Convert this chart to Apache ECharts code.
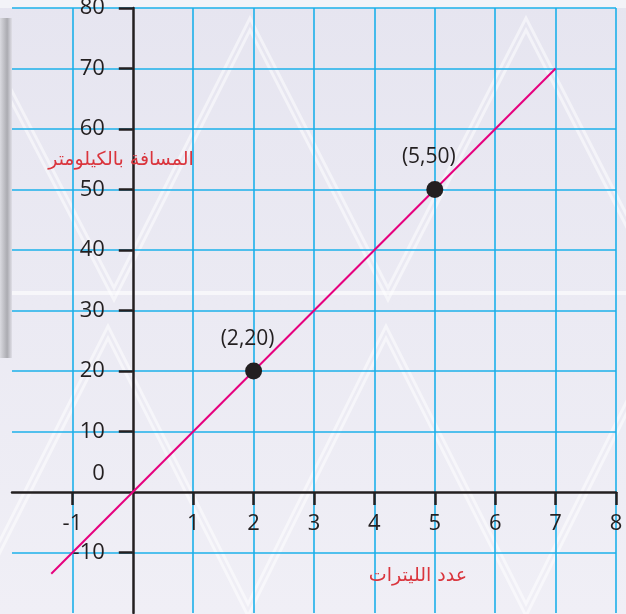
<!DOCTYPE html>
<html>
<head>
<meta charset="utf-8">
<script src="https://cdn.jsdelivr.net/npm/echarts@6/dist/echarts.min.js"></script>
<style>
  html, body { margin: 0; padding: 0; }
  #chart { width: 626px; height: 614px; }
</style>
</head>
<body>
<div id="chart"></div>
<script>
// axis tick labels
var xTicks = [-1, 1, 2, 3, 4, 5, 6, 7, 8];
var xTickMarks = [-1, 1, 2, 3, 4, 5, 6, 7, 8];
var yTicks = [-10, 0, 10, 20, 30, 40, 50, 60, 70, 80];
var yTickMarks = [-10, 10, 20, 30, 40, 50, 60, 70, 80];

// the straight line (drawn from its two ends)
var lineX = [-1.35, 7];
var lineY = [-13.5, 70];

// the two marked points
var pointX = [2, 5];
var pointY = [20, 50];
var pointText = ['(2,20)', '(5,50)'];

var xName = 'عدد الليترات';
var yName = 'المسافة بالكيلومتر';

var inkColor = '#231f20';
var gridColor = '#1cb0ea';
var lineColor = '#e6007e';
var nameColor = '#da353d';

var X_MIN = -2, X_MAX = 8, Y_MIN = -20, Y_MAX = 80;
var G_LEFT = 12, G_RIGHT = 10, G_TOP = 8, G_BOTTOM = 1;
var W = 626, H = 614;
// shift the axes from the grid edge to the zero lines
var plotW = W - G_LEFT - G_RIGHT;
var plotH = H - G_TOP - G_BOTTOM;
var xAxisOffset = -plotH * (0 - Y_MIN) / (Y_MAX - Y_MIN);
var yAxisOffset = -plotW * (0 - X_MIN) / (X_MAX - X_MIN);

var lineData = [];
for (var i = 0; i < lineX.length; i++) {
    lineData.push([lineX[i], lineY[i]]);
}
var pointData = [];
for (var j = 0; j < pointX.length; j++) {
    pointData.push({value: [pointX[j], pointY[j]], label: {formatter: pointText[j]}});
}

// white zigzag decoration of the background
function zigzag(pts, dy) {
    var out = [];
    for (var k = 0; k < pts.length; k++) {
        out.push([pts[k][0], pts[k][1] + dy]);
    }
    return out;
}
var topZig = [[-30, 10], [114, 288], [250, 18], [388, 288], [526, 18], [664, 288]];
var botZig = [[-30, 600], [108, 326], [248, 604], [386, 326], [526, 604], [664, 326]];
var deco = [];
[topZig, botZig].forEach(function (z) {
    [0, 12].forEach(function (d) {
        deco.push({
            type: 'polyline',
            z: -10,
            silent: true,
            shape: {points: zigzag(z, d)},
            style: {stroke: 'rgba(255,255,255,0.5)', lineWidth: 3, fill: null}
        });
    });
});
deco.push({
    type: 'rect', z: -10, silent: true,
    shape: {x: 0, y: 0, width: 626, height: 8},
    style: {fill: '#f3f3f8'}
});
deco.push({
    type: 'rect', z: -10, silent: true,
    shape: {x: 0, y: 291, width: 626, height: 4},
    style: {fill: 'rgba(255,255,255,0.6)'}
});
deco.push({
    type: 'rect', z: -10, silent: true,
    shape: {x: 0, y: 18, width: 12, height: 340},
    style: {
        fill: new echarts.graphic.LinearGradient(0, 0, 1, 0, [
            {offset: 0, color: '#dadae0'},
            {offset: 0.6, color: '#ababb1'},
            {offset: 1, color: '#e0dfe7'}
        ])
    }
});
// axis names
deco.push({
    type: 'text', z: 10, silent: true,
    style: {x: 121, y: 160, text: yName, fill: nameColor, font: '19px "DejaVu Sans"', align: 'center', verticalAlign: 'middle'}
});
deco.push({
    type: 'text', z: 10, silent: true,
    style: {x: 418, y: 576, text: xName, fill: nameColor, font: '19px "DejaVu Sans"', align: 'center', verticalAlign: 'middle'}
});

var myChart = echarts.init(document.getElementById('chart'));
var option = {
    animation: false,
    backgroundColor: new echarts.graphic.LinearGradient(0, 0, 0, 1, [
        {offset: 0, color: '#e6e5f0'},
        {offset: 1, color: '#f0eff6'}
    ]),
    textStyle: {fontFamily: '"Open Sans", sans-serif'},
    grid: {left: G_LEFT, right: G_RIGHT, top: G_TOP, bottom: G_BOTTOM, containLabel: false, outerBoundsMode: 'none'},
    graphic: deco,
    xAxis: {
        type: 'value',
        min: X_MIN,
        max: X_MAX,
        interval: 1,
        position: 'bottom',
        offset: xAxisOffset,
        axisLine: {onZero: false, lineStyle: {color: inkColor, width: 2.5}},
        axisTick: {show: true, customValues: xTickMarks, length: 13, lineStyle: {color: inkColor, width: 2.5}},
        axisLabel: {
            customValues: xTicks,
            margin: 21,
            color: inkColor,
            fontSize: 22,
            hideOverlap: false
        },
        splitLine: {show: true, lineStyle: {color: gridColor, width: 1.6}}
    },
    yAxis: {
        type: 'value',
        min: Y_MIN,
        max: Y_MAX,
        interval: 10,
        position: 'left',
        offset: yAxisOffset,
        axisLine: {onZero: false, lineStyle: {color: inkColor, width: 2.5}},
        axisTick: {show: true, customValues: yTickMarks, length: 14, lineStyle: {color: inkColor, width: 2.5}},
        axisLabel: {
            customValues: yTicks,
            margin: 28,
            color: inkColor,
            fontSize: 22,
            hideOverlap: false,
            formatter: function (v) {
                if (v === 0) {
                    return '{z|0}';
                }
                return String(v);
            },
            rich: {
                z: {fontSize: 22, color: inkColor, padding: [0, 0, 37, 0]}
            }
        },
        splitLine: {show: true, lineStyle: {color: gridColor, width: 1.6}}
    },
    series: [
        {
            type: 'line',
            data: lineData,
            symbol: 'none',
            z: 3,
            lineStyle: {color: lineColor, width: 2}
        },
        {
            type: 'scatter',
            data: pointData,
            symbolSize: 17,
            z: 4,
            itemStyle: {color: inkColor, opacity: 1},
            label: {
                show: true,
                position: 'top',
                distance: 13,
                offset: [-6, 0],
                color: inkColor,
                fontSize: 21
            }
        }
    ]
};
myChart.setOption(option);
</script>
</body>
</html>
